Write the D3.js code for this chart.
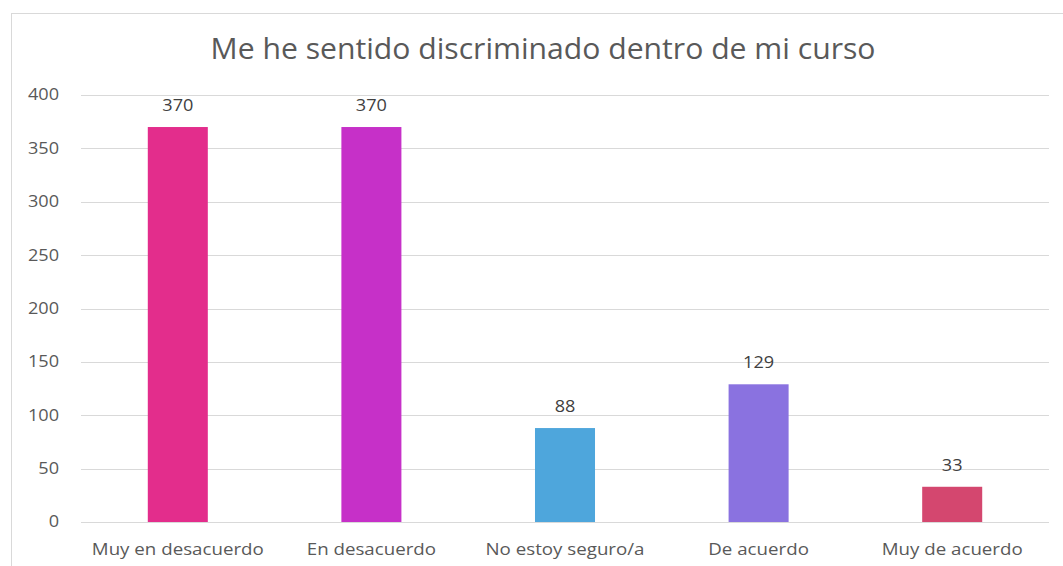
<!DOCTYPE html>
<html><head><meta charset="utf-8">
<script src="https://cdn.jsdelivr.net/npm/d3@7"></script>
<style>body{margin:0;background:#fff}svg{display:block}</style>
</head><body>
<svg id="c" width="1063" height="566"></svg>
<script>
const categories = ["Muy en desacuerdo","En desacuerdo","No estoy seguro/a","De acuerdo","Muy de acuerdo"];
const values = [370, 370, 88, 129, 33];
const colors = ["#E32D8C","#C630C8","#4EA6DC","#8A72E0","#D4476F"];
const yTicks = [0,50,100,150,200,250,300,350,400];
const title = "Me he sentido discriminado dentro de mi curso";

(function(){
const svg = d3.select("#c");
const font = "'Open Sans', sans-serif";
const stretch = "scale(1.17,1)";
svg.append("rect").attr("x",11.5).attr("y",13.5).attr("width",1060).attr("height",560)
  .attr("fill","none").attr("stroke","#d9d9d9").attr("stroke-width",1);

const pL = 81, pR = 1049, pT = 95, pB = 522;
const x = d3.scaleBand().domain(categories).range([pL, pR]).paddingInner(0.69).paddingOuter(0.345);
const y = d3.scaleLinear().domain([0,400]).range([pB, pT]);

svg.append("g").selectAll("line").data(yTicks).join("line")
  .attr("x1",pL).attr("x2",pR)
  .attr("y1",d=>Math.round(y(d))+0.5).attr("y2",d=>Math.round(y(d))+0.5)
  .attr("stroke","#d9d9d9").attr("stroke-width",1);

const yAxis = d3.axisLeft(y).tickValues(yTicks).tickSize(0).tickPadding(0);
const ga = svg.append("g").attr("transform",`translate(59,0)`).call(yAxis);
ga.select(".domain").remove();
ga.selectAll("text").attr("font-family",font).attr("font-size",15.5).attr("fill","#595959")
  .attr("transform",stretch);

svg.append("g").selectAll("rect").data(values).join("rect")
  .attr("x",(d,i)=>x(categories[i])).attr("width",x.bandwidth())
  .attr("y",d=>y(d)).attr("height",d=>y(0)-y(d))
  .attr("fill",(d,i)=>colors[i]);

svg.append("g").selectAll("g").data(values).join("g")
  .attr("transform",(d,i)=>`translate(${x(categories[i])+x.bandwidth()/2},${y(d)-16})`)
  .append("text")
  .attr("text-anchor","middle").attr("font-family",font).attr("font-size",15.5).attr("fill","#404040")
  .attr("transform",stretch)
  .text(d=>d);

const xAxis = d3.axisBottom(x).tickSize(0).tickPadding(0);
const gx = svg.append("g").attr("transform",`translate(0,${pB+22})`).call(xAxis);
gx.select(".domain").remove();
gx.selectAll("text").attr("font-family",font).attr("font-size",16).attr("fill","#595959")
  .attr("transform",stretch);

svg.append("g").attr("transform","translate(543,59)").append("text")
  .attr("text-anchor","middle").attr("transform","scale(1.04,1)")
  .attr("font-family",font).attr("font-size",29).attr("fill","#595959").text(title);
})();
</script>
</body></html>
